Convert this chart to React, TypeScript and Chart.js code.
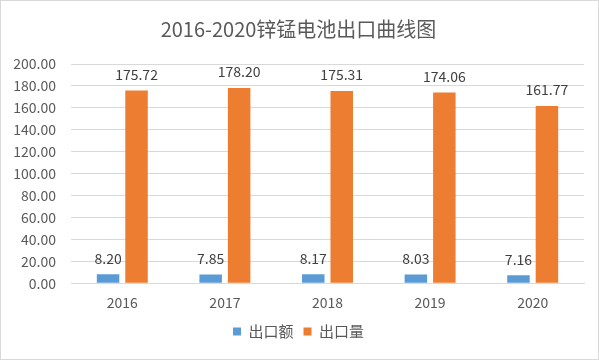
import React, { useEffect, useRef } from "react";
import { Chart, registerables } from "chart.js";

Chart.register(...registerables);

const categories = ["2016", "2017", "2018", "2019", "2020"];
const exportValue = [8.2, 7.85, 8.17, 8.03, 7.16];
const exportVolume = [175.72, 178.2, 175.31, 174.06, 161.77];
const seriesNames = ["出口额", "出口量"];
const titleText = "2016-2020锌锰电池出口曲线图";

const FONT = '"Noto Sans CJK SC", "Noto Sans", sans-serif';

const dataLabelPlugin = {
  id: "dataLabels",
  afterDatasetsDraw(chart: any) {
    const ctx = chart.ctx;
    ctx.save();
    ctx.font = `14px ${FONT}`;
    ctx.fillStyle = "#404040";
    ctx.textAlign = "center";
    ctx.textBaseline = "middle";
    chart.data.datasets.forEach((ds: any, i: number) => {
      const meta = chart.getDatasetMeta(i);
      meta.data.forEach((bar: any, j: number) => {
        const v = ds.data[j] as number;
        ctx.fillText(v.toFixed(2), bar.x, bar.y - 16);
      });
    });
    ctx.restore();
  },
};

export default function App() {
  const ref = useRef<HTMLCanvasElement>(null);
  useEffect(() => {
    if (!ref.current) return;
    const chart = new Chart(ref.current, {
      type: "bar",
      data: {
        labels: categories,
        datasets: [
          {
            label: seriesNames[0],
            data: exportValue,
            backgroundColor: "#5b9bd5",
            categoryPercentage: 0.555,
            barPercentage: 0.79,
          },
          {
            label: seriesNames[1],
            data: exportVolume,
            backgroundColor: "#ed7d31",
            categoryPercentage: 0.555,
            barPercentage: 0.79,
          },
        ],
      },
      options: {
        animation: false,
        responsive: false,
        maintainAspectRatio: false,
        layout: { padding: { left: 12, right: 14, top: 0, bottom: 10 } },
        plugins: {
          title: {
            display: true,
            text: titleText,
            color: "#595959",
            font: { family: FONT, size: 20, weight: "normal" },
            padding: { top: 16, bottom: 23 },
          },
          legend: {
            position: "bottom",
            labels: {
              boxWidth: 8,
              boxHeight: 8,
              color: "#595959",
              font: { family: FONT, size: 15 },
              padding: 10,
            },
          },
          tooltip: { enabled: false },
        },
        scales: {
          x: {
            grid: { display: false },
            border: { color: "#d9d9d9" },
            ticks: { color: "#595959", font: { family: FONT, size: 14 }, padding: 3 },
          },
          y: {
            min: 0,
            max: 200,
            grid: { color: "#d9d9d9", drawTicks: false },
            border: { display: false },
            ticks: {
              stepSize: 20,
              color: "#595959",
              font: { family: FONT, size: 14 },
              padding: 15,
              callback: (v: any) => Number(v).toFixed(2),
            },
            afterFit: (scale: any) => {
              scale.width = 58;
            },
          },
        },
      },
      plugins: [dataLabelPlugin],
    });
    return () => chart.destroy();
  }, []);
  return (
    <div
      style={{
        position: "fixed",
        left: 0,
        top: 0,
        width: 599,
        height: 360,
        border: "1px solid #d9d9d9",
        boxSizing: "border-box",
        background: "#fff",
      }}
    >
      <canvas ref={ref} width={597} height={358} style={{ display: "block" }} />
    </div>
  );
}
